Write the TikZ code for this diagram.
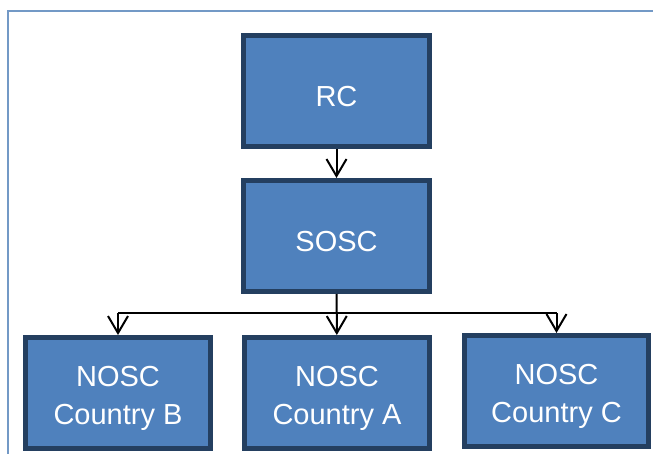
\documentclass[tikz,border=0pt]{standalone}
\usepackage{fontspec}
\setmainfont{Liberation Sans}
\usetikzlibrary{arrows.meta,positioning}
\definecolor{boxFill}{HTML}{4F81BD}
\definecolor{boxEdge}{HTML}{243F60}
\definecolor{frameBlue}{HTML}{7399C6}
\begin{document}
\begin{tikzpicture}[x=1pt,y=-1pt,
      font=\fontsize{29}{38}\selectfont,
      org/.style={draw=boxEdge,fill=boxFill,line width=5pt,text=white,
                  minimum width=186pt,minimum height=111pt,align=center,inner sep=0pt,
                  text height=31pt,text depth=0pt},
      org2/.style={org,text height=66pt,text depth=3pt},
      link/.style={line width=2pt,-{Straight Barb[length=17pt,width=20pt]}}]
    \useasboundingbox (0,0) rectangle (653,454);
    \draw[frameBlue,line width=1.5pt] (653,11) -- (8,11) -- (8,454);
    \node[org] (rc)   at (336.5,91)  {RC};
    \node[org] (sosc) at (336.5,236) {SOSC};
    \node[org2,minimum width=185pt] (nb) at (118,393)   {NOSC\\Country B};
    \node[org2,minimum width=185pt] (na) at (337,393)   {NOSC\\Country A};
    \node[org2,minimum width=184pt] (nc) at (556.5,391) {NOSC\\Country C};
    \coordinate (bus) at (337,313);
    \draw[link] (rc) -- (sosc);
    \draw[line width=2pt] (nb.north |- bus) -- (nc.north |- bus);
    \draw[link] (sosc) -- (na);
    \draw[link] (nb.north |- bus) -- (nb);
    \draw[link] (nc.north |- bus) -- (nc);
  \end{tikzpicture}
\end{document}
